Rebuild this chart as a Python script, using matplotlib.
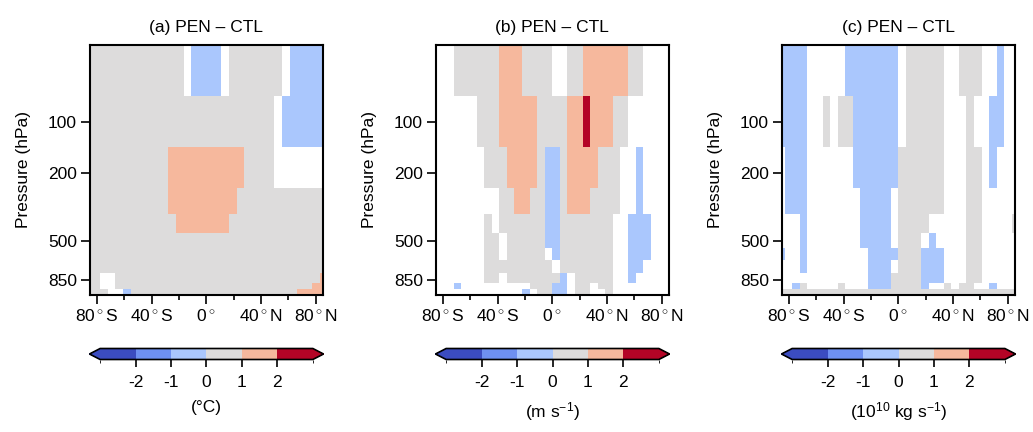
import numpy as np
import matplotlib
matplotlib.use("Agg")
import matplotlib.pyplot as plt
from matplotlib.colors import ListedColormap, BoundaryNorm
from matplotlib.cm import ScalarMappable
from matplotlib.ticker import NullLocator, FixedLocator

plt.rcParams['font.family'] = ['Liberation Sans', 'DejaVu Sans']
plt.rcParams['mathtext.fontset'] = 'custom'
plt.rcParams['mathtext.rm'] = 'Liberation Sans'
plt.rcParams['mathtext.it'] = 'Liberation Sans:italic'
plt.rcParams['axes.unicode_minus'] = False

# ---- grid (T21 Gaussian latitudes, north half; mirrored for south) ----
lat_north = [2.769, 8.307, 13.845, 19.382, 24.920, 30.458, 35.995, 41.533,
             47.070, 52.607, 58.143, 63.679, 69.213, 74.745, 80.269, 85.761]
levels = [50, 100, 200, 300, 400, 500, 600, 700, 850, 925, 1000]  # hPa

# ---- colour classes ----
class_colors = ['#3b4cc0', '#6e90f1', '#aac7fd', '#dddcdc', '#f6b89d', '#b40426']
bounds = [-3, -2, -1, 0, 1, 2, 3]
cbar_ticks = [-2, -1, 0, 1, 2]
code_value = {'.': np.nan, 'B': -1.5, 'b': -0.5, 'g': 0.5, 'o': 1.5, 'r': 2.5}

# ---- significant differences ----
# one string per pressure level (50 hPa first); one character per latitude
# column from south (left) to north (right), in groups of 8 columns.
# '.' = not significant (white), b = -1..0, g = 0..1, o = 1..2, r = >2
temp_rows = [
    "gggggggg ggggg.bb bb.ggggg gg.bbbbb",
    "gggggggg gggggggg gggggggg g.bbbbbb",
    "gggggggg gggooooo oooooggg g.......",
    "gggggggg gggooooo oooogggg gggggggg",
    "gggggggg ggggoooo oooggggg gggggggg",
    "gggggggg gggggggg gggggggg gggggggg",
    "gggggggg gggggggg gggggggg gggggggg",
    "gggggggg gggggggg gggggggg gggggggg",
    "gg..gggg gggggggg gggggggg gggggggo",
    "gg..gggg gggggggg gggggggg ggggggoo",
    "ggg..bgg gggggggg gggggggg ggggoooo",
]
wind_rows = [
    "...ggggg gooogggg ..ggoooo oogg....",
    "......gg gooooogg ggoorooo gg......",
    ".......g ggoooogb bgoooogg g..b....",
    "........ .ggooggb bgoooggg g..b....",
    ".......g .ggggggb bggggggg ..bbb...",
    ".......g g.gggggb bggggggg ..bbb...",
    ".......g g.ggggg. bggggggg ..bbb...",
    ".......g gggggggg .ggggggg ..bb....",
    ".......g g.gggggg gb.ggggg ..b.....",
    "...b.... .....ggg bb.gg.gg ........",
    "........ ....b.gg bb.gg..g ........",
]
mass_rows = [
    "bbbb.... .bbbbbbb .ggggg.. ggg..b..",
    "bbbb..g. ggbbbbbb .ggggg.. .g..bb..",
    ".bbb.... ..bbbbbb gggggg.. .gg.b...",
    ".bbb.... ...bbbb. gggggg.. .gg.....",
    "...b.... ...bbbb. gggg.... .gg....g",
    "...b.... ...bbbb. ggg.b... .gg.....",
    "b..b.... ....bbbb gggbbb.. .gg.....",
    "...b.... ....bbb. gggbbb.. .gg.....",
    "........ ....bbbg gggbbb.. .gg.....",
    "..bg.... g...bbbg gggb..g. gg..b...",
    "gggggggg gggggggg gggggggg gggggggg",
]

titles = ['(a) PEN \u2013 CTL', '(b) PEN \u2013 CTL', '(c) PEN \u2013 CTL']
units = ['(\u00b0C)', '(m s$^{-1}$)', '(10$^{10}$ kg s$^{-1}$)']
xtick_vals = [-80, -40, 0, 40, 80]
xtick_labels = [r'80$\,{}^{\circ}\,$S', r'40$\,{}^{\circ}\,$S', r'0$\,{}^{\circ}$',
                r'40$\,{}^{\circ}\,$N', r'80$\,{}^{\circ}\,$N']
xminor_vals = [-60, -20, 20, 60]
ytick_vals = [100, 200, 500, 850]


def decode(rows):
    return np.array([[code_value[c] for c in r.replace(' ', '')] for r in rows],
                    dtype=float)


lat = np.array([-v for v in lat_north[::-1]] + lat_north)
lat_edges = np.concatenate([[-90.0], 0.5 * (lat[:-1] + lat[1:]), [90.0]])
lp = np.log10(np.array(levels, dtype=float))
lp_mid = 0.5 * (lp[:-1] + lp[1:])
p_edges = 10 ** np.concatenate([[lp[0] - (lp_mid[0] - lp[0])], lp_mid,
                                [lp[-1] + (lp[-1] - lp_mid[-1])]])

cmap = ListedColormap(class_colors)
cmap.set_under(class_colors[0])
cmap.set_over(class_colors[-1])
norm = BoundaryNorm(bounds, cmap.N)

W, H = 1033, 432
fig = plt.figure(figsize=(W / 100, H / 100), dpi=100)

FS = 12.5
lefts = [90, 436, 782]
ax_w = 232.5
ax_top, ax_bot = 45, 295
datasets = [temp_rows, wind_rows, mass_rows]

for i in range(3):
    ax = fig.add_axes([lefts[i] / W, (H - ax_bot) / H, ax_w / W, (ax_bot - ax_top) / H])
    Z = np.ma.masked_invalid(decode(datasets[i]))
    ax.pcolormesh(lat_edges, p_edges, Z, cmap=cmap, norm=norm, shading='flat')
    ax.set_yscale('log')
    ax.set_ylim(p_edges[-1], p_edges[0])
    ax.set_xlim(-85, 85)
    ax.yaxis.set_major_locator(FixedLocator(ytick_vals))
    ax.set_yticklabels([str(v) for v in ytick_vals])
    ax.yaxis.set_minor_locator(NullLocator())
    ax.set_xticks(xtick_vals)
    ax.set_xticklabels(xtick_labels)
    ax.xaxis.set_minor_locator(FixedLocator(xminor_vals))
    ax.tick_params(axis='both', which='major', direction='out', length=6.5,
                   width=1.2, labelsize=FS)
    ax.tick_params(axis='y', which='major', pad=3)
    ax.tick_params(axis='x', which='major', pad=3)
    ax.tick_params(axis='x', which='minor', direction='out', length=3.5, width=1.2)
    for s in ax.spines.values():
        s.set_linewidth(1.5)
    ax.set_ylabel('Pressure (hPa)', fontsize=FS)
    ax.yaxis.set_label_coords(-0.252, 0.5)
    ax.set_title(titles[i], fontsize=FS, pad=9.5)

    cax = fig.add_axes([(lefts[i] - 0.5) / W, (H - 359.5) / H, 234 / W, 11 / H])
    sm = ScalarMappable(norm=norm, cmap=cmap)
    cb = fig.colorbar(sm, cax=cax, orientation='horizontal', extend='both',
                      extendfrac=0.05, ticks=cbar_ticks, drawedges=False)
    cb.ax.set_xticklabels([str(t) for t in cbar_ticks])
    cb.ax.tick_params(direction='out', length=5, width=1.2, labelsize=FS, pad=6.5)
    cb.outline.set_linewidth(1.2)
    cb.set_label(units[i], fontsize=FS, labelpad=7)

fig.savefig('out.png', dpi=100)
